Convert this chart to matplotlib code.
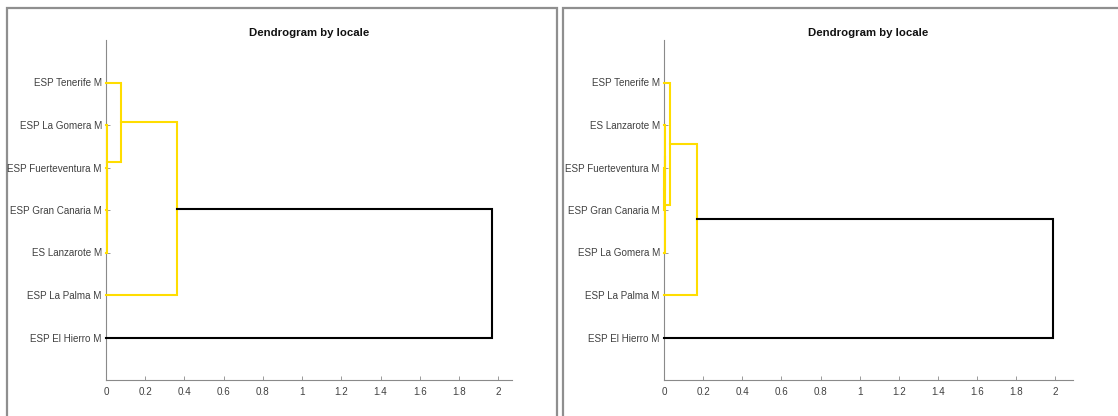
"""
plot.py — two dendrogram panels (MATLAB-style) drawn with matplotlib
"""
import matplotlib
matplotlib.use("Agg")
import matplotlib.pyplot as plt
import matplotlib.patches as mpatches

plt.rcParams["font.family"] = ["Liberation Sans", "DejaVu Sans"]

# leaves listed bottom -> top
left_labels = ["ESP El Hierro M", "ESP La Palma M", "ES Lanzarote M",
               "ESP Gran Canaria M", "ESP Fuerteventura M", "ESP La Gomera M",
               "ESP Tenerife M"]
# merges: (child a, child b, height); new nodes are numbered after the leaves
left_merges = [(2, 3, 0.003), (4, 7, 0.005), (5, 8, 0.007),
               (6, 9, 0.077), (1, 10, 0.364), (0, 11, 1.97)]

right_labels = ["ESP El Hierro M", "ESP La Palma M", "ESP La Gomera M",
                "ESP Gran Canaria M", "ESP Fuerteventura M", "ES Lanzarote M",
                "ESP Tenerife M"]
right_merges = [(4, 3, 0.002), (5, 7, 0.004), (2, 8, 0.006),
                (6, 9, 0.031), (1, 10, 0.167), (0, 11, 1.99)]

x_ticks = [0, 0.2, 0.4, 0.6, 0.8, 1, 1.2, 1.4, 1.6, 1.8, 2]

YELLOW = "#FFDD00"
AXIS_GRAY = "#8a8a8a"
TEXT_GRAY = "#404040"

W, H = 1118, 416


def _segments(n_leaves, merges):
    """linkage -> list of (xs, ys, height) U-shapes, leaves at y = 1..n"""
    ypos = {i: i + 1 for i in range(n_leaves)}
    hts = {i: 0.0 for i in range(n_leaves)}
    segs = []
    for k, (a, b, h) in enumerate(merges):
        node = n_leaves + k
        xs = [hts[a], h, h, hts[b]]
        ys = [ypos[a], ypos[a], ypos[b], ypos[b]]
        ypos[node] = (ypos[a] + ypos[b]) / 2
        hts[node] = h
        segs.append((xs, ys, h))
    return segs


def draw_panel(fig, frame_px, axes_px, labels, merges, xmax):
    # grey frame around the panel (behind the axes text)
    fx0, fy0, fx1, fy1 = frame_px
    rect = mpatches.Rectangle((fx0 / W, 1 - fy1 / H), (fx1 - fx0) / W,
                              (fy1 - fy0) / H, transform=fig.transFigure,
                              fill=False, edgecolor="#8f8f8f", linewidth=1.6,
                              zorder=-1)
    fig.add_artist(rect)

    ax0, ay0, ax1, ay1 = axes_px
    ax = fig.add_axes([ax0 / W, 1 - ay1 / H, (ax1 - ax0) / W, (ay1 - ay0) / H])
    ax.patch.set_alpha(0)

    max_h = max(m[2] for m in merges)
    threshold = 0.7 * max_h
    for xs, ys, h in _segments(len(labels), merges):
        color = YELLOW if h < threshold else "black"
        ax.plot(xs, ys, color=color, linewidth=1.5, solid_joinstyle="miter",
                zorder=3, clip_on=False)

    ax.set_xlim(0, xmax)
    ax.set_ylim(0, len(labels) + 1)
    ax.set_xticks(x_ticks)
    ax.set_xticklabels([f"{v:g}" for v in x_ticks])
    ax.set_yticks(range(1, len(labels) + 1))
    ax.set_yticklabels(labels)
    ax.tick_params(direction="in", length=3, width=0.6, color=AXIS_GRAY,
                   labelcolor=TEXT_GRAY, labelsize=7.1, pad=3)
    ax.tick_params(axis="x", pad=5)
    for side in ("top", "right"):
        ax.spines[side].set_visible(False)
    for side in ("left", "bottom"):
        ax.spines[side].set_color(AXIS_GRAY)
        ax.spines[side].set_linewidth(0.8)
    ax.set_title("Dendrogram by locale", fontsize=8.2, fontweight="bold",
                 color="#111111", pad=3)
    return ax


fig = plt.figure(figsize=(W / 100, H / 100), dpi=100)
draw_panel(fig, (7, 8, 557, 420), (106, 40, 512, 380),
           left_labels, left_merges, 2.07)
draw_panel(fig, (563, 8, 1122, 420), (664, 40, 1073, 380),
           right_labels, right_merges, 2.09)

fig.savefig("out.png", dpi=100)
plt.close(fig)
